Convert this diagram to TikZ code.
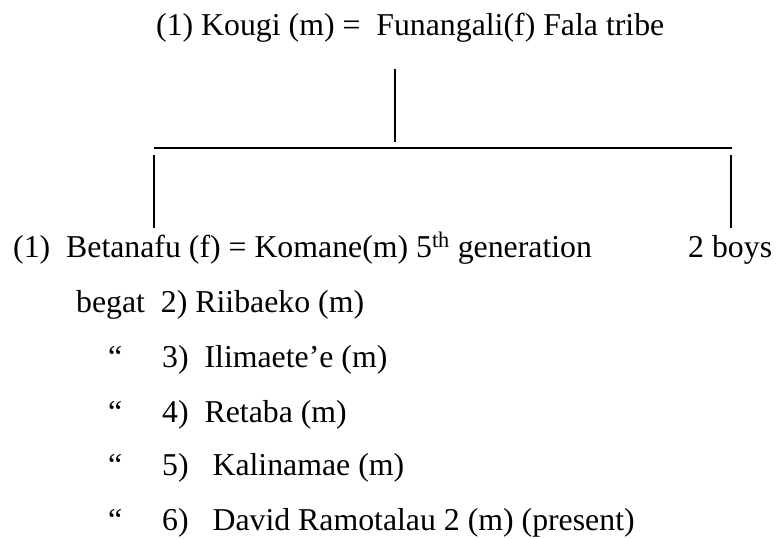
\documentclass[tikz,border=0pt]{standalone}
\usepackage{fontspec}
\setmainfont{Liberation Serif}
\begin{document}
\begin{tikzpicture}[x=1pt,y=-1pt,
  txt/.style={anchor=base west,inner sep=0pt,font=\fontsize{31.8}{38}\selectfont},
  tree/.style={line width=1.6pt,black}]
\useasboundingbox (0,0) rectangle (781,538);
% texts
\node[txt] (title) at (156,35) {(1) Kougi (m) =\ \ Funangali(f) Fala tribe};
\node[txt] (r1) at (13,257) {(1)\ \ Betanafu (f) = Komane(m) 5\textsuperscript{th} generation};
\node[txt] (boys) at (688,257) {2 boys};
\node[txt] (r2) at (76,312) {begat\ \ 2) Riibaeko (m)};
\node[txt] (q3) at (108,367) {“};
\node[txt] (r3) at (162,367) {3)\ \ Ilimaete’e (m)};
\node[txt] (q4) at (108,422) {“};
\node[txt] (r4) at (162,422) {4)\ \ Retaba (m)};
\node[txt] (q5) at (108,475) {“};
\node[txt] (r5) at (162,475) {5)\ \ \ Kalinamae (m)};
\node[txt] (q6) at (108,530) {“};
\node[txt] (r6) at (162,530) {6)\ \ \ David Ramotalau 2 (m) (present)};
% tree connectors
\coordinate (ptop) at (395,69);
\coordinate (pbot) at (395,142);
\coordinate (hl) at (154,148);
\coordinate (hr) at (732,148);
\coordinate (ltop) at (154,155);
\coordinate (lbot) at (154,228);
\coordinate (rtop) at (731,155);
\coordinate (rbot) at (731,228);
\draw[tree] (ptop) -- (pbot);
\draw[tree] (hl) -- (hr);
\draw[tree] (ltop) -- (lbot);
\draw[tree] (rtop) -- (rbot);
\end{tikzpicture}
\end{document}
